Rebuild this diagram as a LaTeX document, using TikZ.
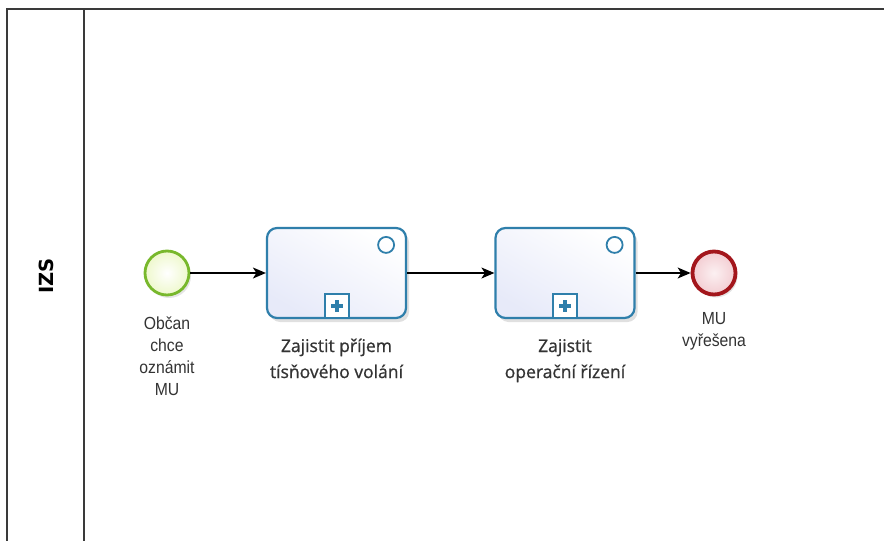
\documentclass[tikz,border=0pt]{standalone}
\usepackage{fontspec}
\setmainfont{Liberation Sans}
\newfontfamily\evfont[FakeStretch=0.9]{Liberation Sans}
\newfontfamily\taskfont[FakeBold=0.8]{Open Sans}
\newfontfamily\lanefont{DejaVu Sans}
\usetikzlibrary{arrows.meta,shadows}
\definecolor{poolline}{HTML}{3A3A3A}
\definecolor{taskblue}{HTML}{2F7FAB}
\definecolor{taskfill}{HTML}{E7EAF9}
\definecolor{startgreen}{HTML}{78B82C}
\definecolor{startfill}{HTML}{EEF8CC}
\definecolor{endred}{HTML}{A3161C}
\definecolor{endfill}{HTML}{F3CDD2}
\definecolor{labelgray}{HTML}{333333}
\tikzset{
  pool/.style={draw=poolline, line width=1.8pt},
  taskbox/.style={draw=taskblue, line width=2.2pt, rounded corners=10pt,
    minimum width=139pt, minimum height=90pt, inner sep=0pt,
    top color=white, bottom color=taskfill, shading angle=-30,
    drop shadow={shadow xshift=3pt, shadow yshift=-4pt, opacity=0.12, fill=black}},
  startev/.style={circle, draw=startgreen, line width=2.8pt, minimum size=44pt, inner sep=0pt,
    inner color=white, outer color=startfill,
    drop shadow={shadow xshift=2pt, shadow yshift=-3pt, opacity=0.10, fill=black}},
  endev/.style={circle, draw=endred, line width=3.8pt, minimum size=43pt, inner sep=0pt,
    inner color=white!70!endfill, outer color=endfill,
    drop shadow={shadow xshift=2pt, shadow yshift=-3pt, opacity=0.10, fill=black}},
  markercirc/.style={circle, draw=taskblue, line width=1.8pt, minimum size=16pt, inner sep=0pt},
  markersq/.style={draw=taskblue, line width=2pt, fill=white, minimum size=24pt, inner sep=0pt},
  flow/.style={draw=black, line width=1.3pt, -{Stealth[length=13pt,width=11pt,inset=3.5pt]}},
  evlabel/.style={font=\evfont\fontsize{17.5}{21.7}\selectfont, text=labelgray, align=center, inner sep=0pt, anchor=base},
  tasklabel/.style={font=\taskfont\fontsize{17.5}{26}\selectfont, text=labelgray, align=center, inner sep=0pt, anchor=base}
}
\begin{document}
\begin{tikzpicture}[x=1pt,y=-1pt]
\useasboundingbox (0,0) rectangle (884,541);
\fill[white] (0,0) rectangle (884,541);
% pool and lane
\draw[pool] (7,548) -- (7,9) -- (892,9);
\draw[pool] (83.7,9) -- (83.7,548);
\node[rotate=90, font=\lanefont\bfseries\fontsize{19.5}{22}\selectfont, text=black] (lane) at (46,276) {IZS};
% events and tasks
\node[startev] (start) at (167,273) {};
\node[taskbox] (t1) at (336.5,273) {};
\node[taskbox] (t2) at (565,273) {};
\node[endev] (end) at (714,273) {};
% task markers
\foreach \t in {t1,t2}{
  \node[markercirc] (\t c) at ([xshift=-21pt,yshift=-18pt]\t.north east) {};
  \node[markersq, anchor=south] (\t m) at (\t.south) {};
  \fill[taskblue] ([xshift=-6pt,yshift=-2pt]\t m.center) rectangle ([xshift=6pt,yshift=2pt]\t m.center);
  \fill[taskblue] ([xshift=-2pt,yshift=-6pt]\t m.center) rectangle ([xshift=2pt,yshift=6pt]\t m.center);
}
% flows
\draw[flow] (start) -- (t1);
\draw[flow] (t1) -- (t2);
\draw[flow] (t2) -- (end);
% labels (base anchor = baseline of the last line)
\node[evlabel] (startlbl) at (167,395) {Občan\\chce\\oznámit\\MU};
\node[tasklabel] (t1lbl) at (336.5,378) {Zajistit příjem\\tísňového volání};
\node[tasklabel] (t2lbl) at (565,378) {Zajistit\\operační řízení};
\node[evlabel] (endlbl) at (714,346) {MU\\vyřešena};
\end{tikzpicture}
\end{document}
